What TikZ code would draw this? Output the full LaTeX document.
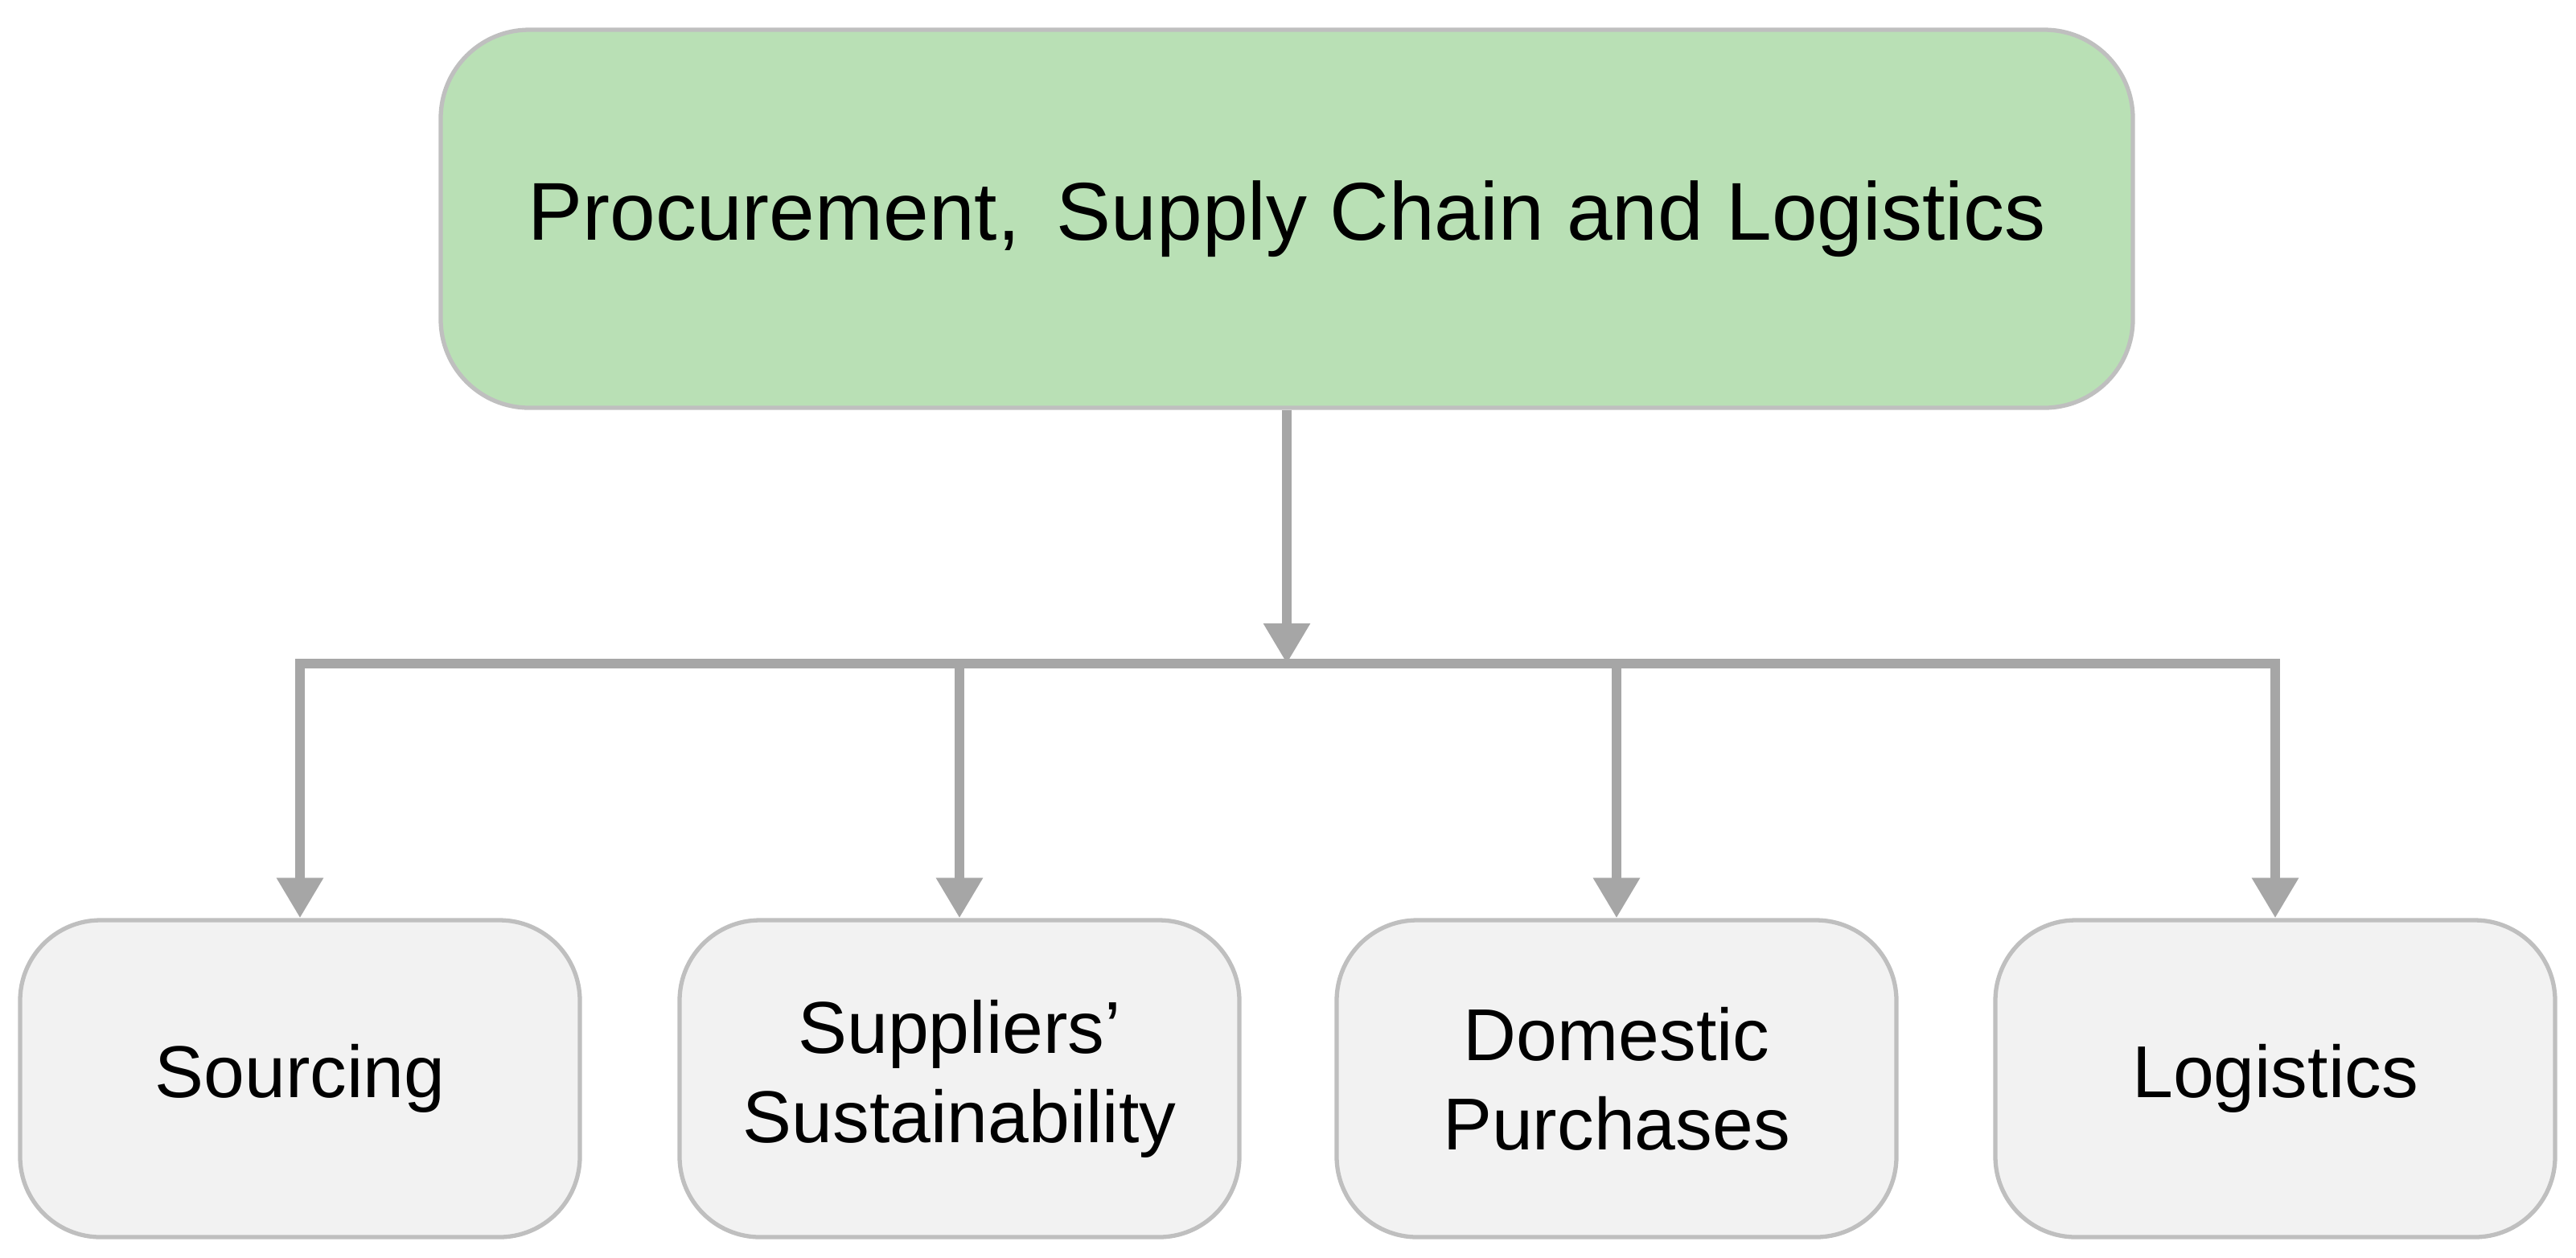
\documentclass[tikz,border=0pt]{standalone}
\usepackage{fontspec}
\setmainfont{Liberation Sans}
\usetikzlibrary{arrows.meta,positioning}
\definecolor{topgreen}{HTML}{B9E0B5}
\definecolor{boxgray}{HTML}{F2F2F2}
\definecolor{edgegray}{HTML}{BFBFBF}
\definecolor{linkgray}{HTML}{A6A6A6}
\tikzset{
	main/.style={draw=edgegray, line width=1.5pt, fill=topgreen, rounded corners=1.1cm,
		minimum width=21.04cm, minimum height=4.7cm, font=\fontsize{29}{35}\selectfont},
	part/.style={draw=edgegray, line width=1.5pt, fill=boxgray, rounded corners=1cm,
		minimum width=6.96cm, minimum height=3.94cm, align=center, font=\fontsize{26}{31.5}\selectfont},
	link/.style={draw=linkgray, line width=3.5pt, -{Triangle[length=0.5cm,width=0.55cm]}}
}
\begin{document}
\begin{tikzpicture}[x=1cm,y=-1cm]
	\useasboundingbox (0,0) rectangle (32.03,15.63);
	
	\node[main] (top) at (16.0,2.72) {Procurement,\, Supply Chain and Logistics};
	
	\node[part] (sourcing) at (3.73,13.41) {Sourcing};
	\node[part] (suppliers) at (11.93,13.41) {Suppliers’\\Sustainability};
	\node[part] (domestic) at (20.10,13.41) {Domestic\\Purchases};
	\node[part] (logistics) at (28.29,13.41) {Logistics};
	
	\coordinate (hub) at (16.0,8.25);
	\draw[link] (top.south) -- (hub);
	\draw[draw=linkgray, line width=3.5pt, line cap=rect] (sourcing.north |- hub) -- (logistics.north |- hub);
	\foreach \n in {sourcing,suppliers,domestic,logistics}
		\draw[link] (\n.north |- hub) -- (\n.north);
\end{tikzpicture}
\end{document}
